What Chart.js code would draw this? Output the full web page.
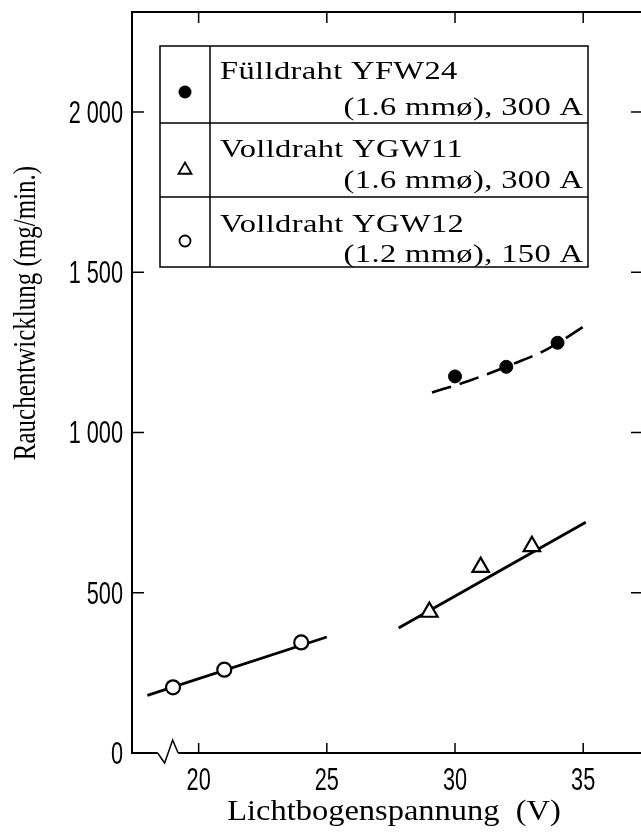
<!DOCTYPE html>
<html>
<head>
<meta charset="utf-8">
<script src="https://cdn.jsdelivr.net/npm/chart.js@4/dist/chart.umd.min.js"></script>
<style>
  html, body { margin: 0; padding: 0; background: #fff; overflow: hidden; }
  #wrap { width: 641px; height: 834px; overflow: hidden; position: relative; }
  #wrap canvas { position: absolute; left: 0; top: 0; }
</style>
</head>
<body>
<div id="wrap"><canvas id="chart" width="670" height="834" style="width:670px;height:834px"></canvas></div>
<script>
// measured points
var seriesNames = ['Fülldraht YFW24', 'Volldraht YGW11', 'Volldraht YGW12'];
var seriesSub = ['(1.6 mmø), 300 A', '(1.6 mmø), 300 A', '(1.2 mmø), 150 A'];
var yfw24X = [30, 32, 34];
var yfw24Y = [1175, 1205, 1280];
var ygw11X = [29, 31, 33];
var ygw11Y = [440, 580, 645];
var ygw12X = [19, 21, 24];
var ygw12Y = [205, 260, 345];
// trend lines as drawn in the picture
var yfw24FitX = [29.1, 30.5, 32.3, 33.6, 35.2];
var yfw24FitY = [1125, 1160, 1215, 1260, 1340];
var ygw11FitX = [27.8, 35.1];
var ygw11FitY = [390, 720];
var ygw12FitX = [18, 25];
var ygw12FitY = [180, 362];
// axes
var xTicks = [20, 25, 30, 35];
var yTicks = [0, 500, 1000, 1500, 2000];
var yTickLabels = ['0', '500', '1 000', '1 500', '2 000'];
var xTitle = 'Lichtbogenspannung  (V)';
var yTitle = 'Rauchentwicklung (mg/min.)';

function pts(xs, ys) {
    return xs.map(function (x, i) { return { x: x, y: ys[i] }; });
}

var serif = '"Liberation Serif", "Times New Roman", serif';
var sans = '"Liberation Sans", Arial, sans-serif';

function drawText(ctx, text, x, y, align, font, sx, ls) {
    ctx.save();
    ctx.font = font;
    ctx.letterSpacing = ls + 'px';
    ctx.fillStyle = '#000';
    ctx.textBaseline = 'alphabetic';
    var w = ctx.measureText(text).width - ls;
    ctx.translate(x, y);
    ctx.scale(sx, 1);
    var ox = align === 'right' ? -w : (align === 'center' ? -w / 2 : 0);
    ctx.fillText(text, ox, 0);
    ctx.restore();
}

function seg(ctx, x0, y0, x1, y1) {
    ctx.beginPath();
    ctx.moveTo(x0, y0);
    ctx.lineTo(x1, y1);
    ctx.stroke();
}

var framePlugin = {
    id: 'frame',
    afterDraw: function (chart) {
        var ctx = chart.ctx, a = chart.chartArea;
        var xs = chart.scales.x, ys = chart.scales.y;
        ctx.save();
        ctx.strokeStyle = '#000';
        ctx.lineWidth = 2;
        ctx.strokeRect(a.left, a.top, a.right - a.left, a.bottom - a.top);

        // ticks pointing inwards, labels outside
        var tickFont = '31px ' + sans;
        ctx.lineWidth = 1.5;
        xTicks.forEach(function (v) {
            var px = xs.getPixelForValue(v);
            seg(ctx, px, a.bottom, px, a.bottom - 10);
            seg(ctx, px, a.top, px, a.top + 11);
            drawText(ctx, String(v), px, a.bottom + 37, 'center', tickFont, 0.7, 0);
        });
        yTicks.forEach(function (v, i) {
            var py = ys.getPixelForValue(v);
            if (v !== 0) {
                seg(ctx, a.left, py, a.left + 12, py);
                seg(ctx, a.right, py, a.right - 15, py);
            }
            drawText(ctx, yTickLabels[i], a.left - 9, py + 11, 'right', tickFont, 0.7, 0);
        });

        // axis break
        var b0 = xs.getPixelForValue(18.4), b1 = xs.getPixelForValue(19.2);
        ctx.fillStyle = '#fff';
        ctx.fillRect(b0, a.bottom - 2, b1 - b0, 4);
        ctx.lineWidth = 1.5;
        ctx.beginPath();
        ctx.moveTo(b0, a.bottom);
        ctx.lineTo(b0 + 7, a.bottom + 10);
        ctx.lineTo(b0 + 15, a.bottom - 13);
        ctx.lineTo(b1, a.bottom);
        ctx.stroke();

        // legend table
        var L = a.left + 28, T = a.top + 34, R = a.left + 456, B = a.top + 255;
        var C = L + 50, r1 = T + 77, r2 = T + 151;
        ctx.fillStyle = '#fff';
        ctx.fillRect(L, T, R - L, B - T);
        ctx.lineWidth = 1.5;
        ctx.strokeRect(L, T, R - L, B - T);
        seg(ctx, C, T, C, B);
        seg(ctx, L, r1, R, r1);
        seg(ctx, L, r2, R, r2);

        var mx = L + 25;
        ctx.fillStyle = '#000';
        ctx.beginPath(); ctx.arc(mx, T + 46, 6.5, 0, Math.PI * 2); ctx.fill();
        ctx.fillStyle = '#fff';
        ctx.lineWidth = 1.8;
        Chart.helpers.drawPoint(ctx, { pointStyle: 'triangle', radius: 7.5, borderWidth: 1.8 }, mx, T + 124);
        ctx.beginPath(); ctx.arc(mx, T + 195, 5.5, 0, Math.PI * 2); ctx.stroke();

        var lf = '26px ' + serif, tx = C + 10, rx = R - 5, sx = 1.25;
        drawText(ctx, seriesNames[0], tx, T + 33, 'left', lf, sx, 0.3);
        drawText(ctx, seriesSub[0], rx, T + 69, 'right', lf, sx, 0.3);
        drawText(ctx, seriesNames[1], tx, T + 111, 'left', lf, sx, 0.3);
        drawText(ctx, seriesSub[1], rx, T + 142, 'right', lf, sx, 0.3);
        drawText(ctx, seriesNames[2], tx, T + 186, 'left', lf, sx, 0.3);
        drawText(ctx, seriesSub[2], rx, T + 216, 'right', lf, sx, 0.3);

        // axis titles
        drawText(ctx, xTitle, 394, 820, 'center', '29px ' + serif, 1.12, 0);
        ctx.save();
        ctx.translate(35, 313);
        ctx.scale(1.25, 1);
        ctx.rotate(-Math.PI / 2);
        drawText(ctx, yTitle, 0, 0, 'center', '25px ' + serif, 1.0, 0);
        ctx.restore();
        ctx.restore();
    }
};

var ctx = document.getElementById('chart').getContext('2d');
new Chart(ctx, {
    type: 'line',
    data: {
        datasets: [
            { label: seriesNames[0], data: pts(yfw24X, yfw24Y), showLine: false, order: 0,
              pointStyle: 'circle', pointRadius: 6.5, pointBackgroundColor: '#000', pointBorderColor: '#000', pointBorderWidth: 1 },
            { label: seriesNames[1], data: pts(ygw11X, ygw11Y), showLine: false, order: 0,
              pointStyle: 'triangle', pointRadius: 9.5, pointBackgroundColor: '#fff', pointBorderColor: '#000', pointBorderWidth: 2.2 },
            { label: seriesNames[2], data: pts(ygw12X, ygw12Y), showLine: false, order: 0,
              pointStyle: 'circle', pointRadius: 7, pointBackgroundColor: '#fff', pointBorderColor: '#000', pointBorderWidth: 2.2 },
            { label: 'fit1', data: pts(yfw24FitX, yfw24FitY), order: 1, borderColor: '#000', borderWidth: 2.6,
              borderDash: [20, 9], pointRadius: 0, cubicInterpolationMode: 'monotone' },
            { label: 'fit2', data: pts(ygw11FitX, ygw11FitY), order: 1, borderColor: '#000', borderWidth: 2.8, pointRadius: 0 },
            { label: 'fit3', data: pts(ygw12FitX, ygw12FitY), order: 1, borderColor: '#000', borderWidth: 2.8, pointRadius: 0 }
        ]
    },
    options: {
        responsive: false,
        animation: false,
        events: [],
        layout: { padding: { left: 0, right: 24, top: 12, bottom: 0 } },
        plugins: { legend: { display: false }, tooltip: { enabled: false } },
        scales: {
            x: {
                type: 'linear', min: 17.4, max: 37.45,
                grid: { display: false, drawTicks: false },
                border: { display: false },
                ticks: { display: false },
                afterFit: function (s) { s.height = 81; }
            },
            y: {
                type: 'linear', min: 0, max: 2312,
                grid: { display: false, drawTicks: false },
                border: { display: false },
                ticks: { display: false },
                afterFit: function (s) { s.width = 132; }
            }
        }
    },
    plugins: [framePlugin]
});
</script>
</body>
</html>
